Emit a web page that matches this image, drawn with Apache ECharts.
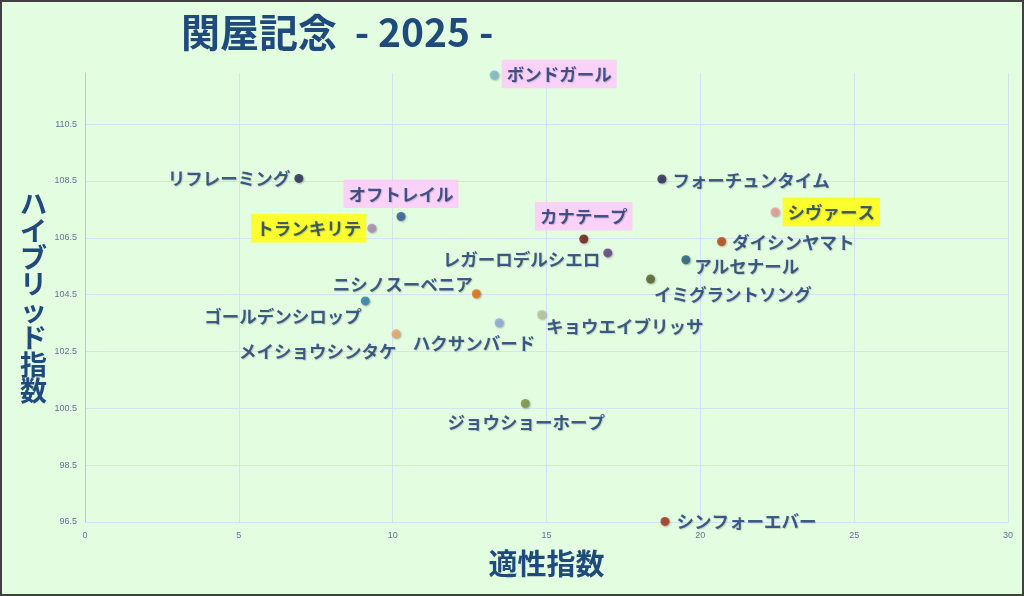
<!DOCTYPE html>
<html>
<head>
<meta charset="utf-8">
<script src="https://cdn.jsdelivr.net/npm/echarts@6/dist/echarts.min.js"></script>
<style>
  html, body { margin: 0; padding: 0; background: #e3fde0; }
  #main { width: 1024px; height: 596px; }
</style>
</head>
<body>
<div id="main"></div>
<script>
// 馬名・適性指数・ハイブリッド指数
const horses = ['ボンドガール', 'リフレーミング', 'オフトレイル', 'トランキリテ', 'フォーチュンタイム',
  'シヴァース', 'カナテープ', 'ダイシンヤマト', 'レガーロデルシエロ', 'アルセナール',
  'イミグラントソング', 'ニシノスーベニア', 'ゴールデンシロップ', 'キョウエイブリッサ',
  'ハクサンバード', 'メイショウシンタケ', 'ジョウショーホープ', 'シンフォーエバー'];
const tekisei = [13.3, 6.95, 10.27, 9.32, 18.75, 22.43, 16.21, 20.69, 16.99, 19.53,
  18.38, 12.72, 9.11, 14.84, 13.46, 10.11, 14.31, 18.85];
const hybrid = [112.23, 108.59, 107.25, 106.84, 108.57, 107.41, 106.46, 106.37, 105.97, 105.73,
  105.05, 104.53, 104.28, 103.80, 103.51, 103.12, 100.67, 96.52];
const yTicks = [96.5, 98.5, 100.5, 102.5, 104.5, 106.5, 108.5, 110.5];
const xTicks = [0, 5, 10, 15, 20, 25, 30];

// 点の色
const dotColors = ['#7dbccf', '#232b52', '#2d5b95', '#a98dbd', '#2b2657', '#e89a96', '#6e1616',
  '#b8420f', '#5e3f82', '#1f5f7b', '#4f6228', '#e86c0a', '#2a80aa', '#b9c99a', '#8eaadb',
  '#e7a56c', '#77953b', '#a2301b'];

// ハイライト (ピンク / 黄色)
const pinkOnes = ['ボンドガール', 'オフトレイル', 'カナテープ'];
const yellowOnes = ['トランキリテ', 'シヴァース'];

// ラベル位置
const labelPos = {
  'ボンドガール': ['right', [-2, -1]],
  'リフレーミング': ['left', [1, 0]],
  'オフトレイル': ['top', [0, 1]],
  'トランキリテ': ['left', [4, 0]],
  'フォーチュンタイム': ['right', [1, 1]],
  'シヴァース': ['right', [-2, 0]],
  'カナテープ': ['top', [0, 1]],
  'ダイシンヤマト': ['right', [1, 1]],
  'レガーロデルシエロ': ['left', [2, 6]],
  'アルセナール': ['right', [-1, 7]],
  'イミグラントソング': ['right', [-6, 15]],
  'ニシノスーベニア': ['left', [6, -9]],
  'ゴールデンシロップ': ['left', [6, 15]],
  'キョウエイブリッサ': ['right', [-5, 12]],
  'ハクサンバード': ['bottom', [-25, 2]],
  'メイショウシンタケ': ['left', [10, 17]],
  'ジョウショーホープ': ['bottom', [1, 1]],
  'シンフォーエバー': ['right', [2, 0]]
};

const chart = echarts.init(document.getElementById('main'));

const points = horses.map(function (name, i) {
  const lp = labelPos[name];
  const label = { position: lp[0], offset: lp[1] };
  if (pinkOnes.indexOf(name) >= 0) {
    label.backgroundColor = '#ffc6fc';
    label.padding = [6, 5, 5, 5];
  } else if (yellowOnes.indexOf(name) >= 0) {
    label.backgroundColor = '#ffff00';
    label.padding = [6, 5, 5, 5];
  }
  return {
    name: name,
    value: [tekisei[i], hybrid[i]],
    itemStyle: { color: dotColors[i] },
    label: label
  };
});

const option = {
  backgroundColor: '#e3fde0',
  animation: false,
  title: {
    text: '関屋記念  - 2025 -',
    left: 176,
    top: 8,
    textStyle: {
      fontFamily: 'Noto Sans CJK JP',
      fontSize: 39,
      fontWeight: 'bold',
      color: '#1f4a7c'
    }
  },
  grid: { left: 85, right: 16, top: 73, bottom: 74 },
  xAxis: {
    type: 'value',
    min: xTicks[0],
    max: xTicks[xTicks.length - 1],
    interval: 5,
    name: '適性指数',
    nameLocation: 'middle',
    nameGap: 27,
    nameTextStyle: {
      fontFamily: 'Noto Sans CJK JP', fontSize: 29, fontWeight: 'bold', color: '#1f4a7c'
    },
    axisLine: { show: true, lineStyle: { color: '#d5e2f5', width: 1 } },
    axisTick: { show: false },
    axisLabel: { fontSize: 9, color: '#5d7796', margin: 9 },
    splitLine: { lineStyle: { color: '#d5e2f5' } }
  },
  yAxis: {
    type: 'value',
    min: yTicks[0],
    max: 112.3,
    interval: 2,
    name: 'ハイブリッド指数'.split('').join('\n'),
    nameLocation: 'middle',
    nameRotate: 0,
    nameGap: 38,
    nameTextStyle: {
      fontFamily: 'Noto Sans CJK JP', fontSize: 27, fontWeight: 'bold', color: '#1f4a7c',
      lineHeight: 26.7, align: 'right'
    },
    axisLine: { show: true, lineStyle: { color: '#b2c8f2', width: 1 } },
    axisTick: { show: false },
    axisLabel: {
      fontSize: 9, color: '#5d7796', margin: 8, showMaxLabel: false,
      formatter: function (v) { return v.toFixed(1); }
    },
    splitLine: { showMaxLine: false, lineStyle: { color: '#d5e2f5' } }
  },
  graphic: [{
    type: 'rect',
    shape: { x: 1, y: 1, width: 1022, height: 594 },
    style: { fill: 'none', stroke: '#404040', lineWidth: 2 },
    z: 100
  }],
  series: [{
    type: 'scatter',
    symbolSize: 9,
    data: points,
    itemStyle: {
      shadowBlur: 2,
      shadowColor: 'rgba(0,0,0,0.35)',
      shadowOffsetX: 1,
      shadowOffsetY: 1
    },
    label: {
      show: true,
      formatter: '{b}',
      fontFamily: 'Noto Sans CJK JP',
      fontSize: 17.5,
      fontWeight: 'bold',
      color: '#173670',
      textShadowColor: 'rgba(0,0,0,0.2)',
      textShadowBlur: 1,
      textShadowOffsetX: 1,
      textShadowOffsetY: 1,
      distance: 5
    },
    emphasis: { disabled: true }
  }]
};

chart.setOption(option);
</script>
</body>
</html>
